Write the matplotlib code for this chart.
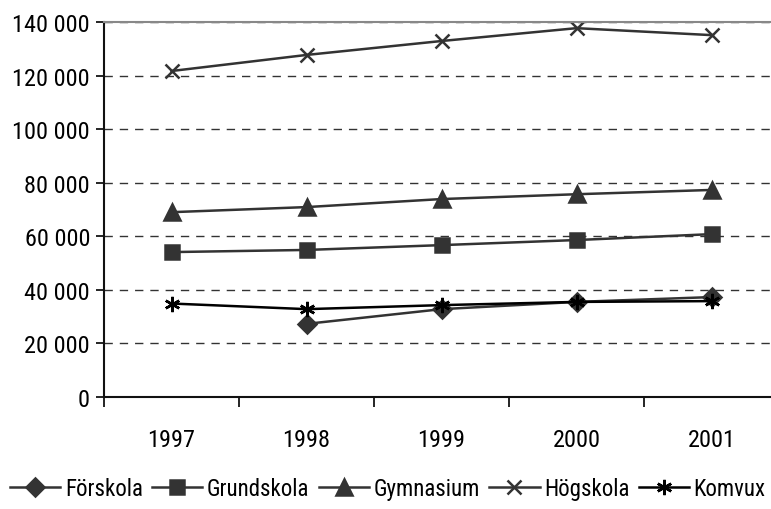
import matplotlib.pyplot as plt
from matplotlib.ticker import FuncFormatter, FixedLocator

plt.rcParams['font.family'] = ['Roboto Condensed', 'DejaVu Sans']

# Data
years = ['1997', '1998', '1999', '2000', '2001']
forskola = [None, 27300, 32800, 35500, 37300]
grundskola = [54100, 54900, 56700, 58600, 60800]
gymnasium = [69000, 70900, 73900, 75700, 77300]
hogskola = [121700, 127700, 132900, 137700, 135100]
komvux = [34900, 32800, 34300, 35500, 35800]

series = [
    ('Förskola', forskola, 'D', '#333333', 9),
    ('Grundskola', grundskola, 's', '#333333', 10),
    ('Gymnasium', gymnasium, '^', '#333333', 11),
    ('Högskola', hogskola, 'x', '#333333', 10),
    ('Komvux', komvux, (6, 2, 0), '#000000', 11),
]

fig = plt.figure(figsize=(7.71, 5.10), dpi=100)
ax = fig.add_axes([104 / 771, 1 - 398 / 510, 675 / 771, 375 / 510])

x = list(range(len(years)))
for name, vals, mk, col, ms in series:
    xs = [i for i, v in zip(x, vals) if v is not None]
    ys = [v for v in vals if v is not None]
    ax.plot(xs, ys, color=col, lw=1.8, marker=mk, markersize=ms,
            markeredgewidth=1.8, markerfacecolor=col, markeredgecolor=col,
            label=name)

ax.set_xlim(-0.5, 4.5)
ax.set_ylim(0, 140000)
ax.set_yticks(range(0, 140001, 20000))
ax.yaxis.set_major_formatter(FuncFormatter(lambda v, p: f"{int(v):,}".replace(',', ' ')))
ax.set_xticks(x)
ax.set_xticklabels(years)
ax.xaxis.set_minor_locator(FixedLocator([i - 0.5 for i in range(6)]))
ax.tick_params(axis='x', which='major', length=0, pad=22, labelsize=17.5)
ax.tick_params(axis='x', which='minor', length=7, width=1.2, direction='out')
ax.tick_params(axis='y', length=6, width=1.2, pad=4, labelsize=17.5)

ax.grid(axis='y', linestyle=(0, (6, 5)), color='#333333', lw=1)
for s in ['left', 'bottom']:
    ax.spines[s].set_color('#111111')
    ax.spines[s].set_linewidth(1.5)
ax.spines['top'].set_color('#888888')
ax.spines['top'].set_linewidth(1.5)
ax.spines['right'].set_visible(False)

fig.legend(loc='center left', bbox_to_anchor=(10 / 771, 1 - 490 / 510), ncol=5,
           frameon=False, fontsize=16.5, handlelength=2.2, handletextpad=0.2,
           columnspacing=0.4, borderaxespad=0, borderpad=0)

fig.savefig('out.png', dpi=100)
